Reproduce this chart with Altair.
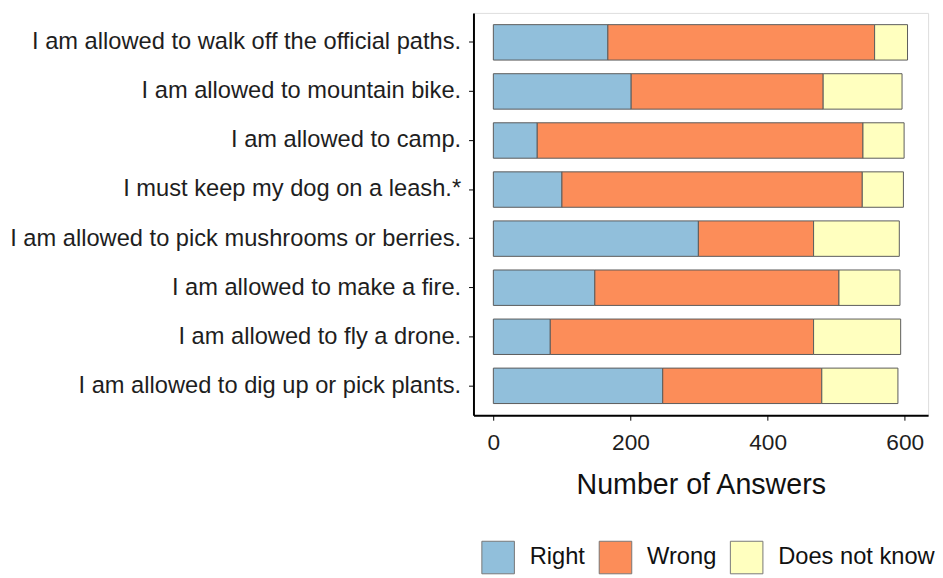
import altair as alt
import pandas as pd

statements = [
    "I am allowed to walk off the official paths.",
    "I am allowed to mountain bike.",
    "I am allowed to camp.",
    "I must keep my dog on a leash.*",
    "I am allowed to pick mushrooms or berries.",
    "I am allowed to make a fire.",
    "I am allowed to fly a drone.",
    "I am allowed to dig up or pick plants.",
]
right = [167, 201, 64, 100, 299, 148, 83, 247]
wrong = [389, 280, 475, 438, 168, 356, 384, 232]
dont_know = [48, 115, 60, 60, 125, 89, 127, 111]

answers = ["Right", "Wrong", "Does not know"]
colors = ["#91bfdb", "#fc8d59", "#ffffbf"]

rows = []
for i, s in enumerate(statements):
    for k, (a, v) in enumerate(zip(answers, [right[i], wrong[i], dont_know[i]])):
        rows.append({"statement": s, "answer": a, "count": v, "order": k})
df = pd.DataFrame(rows)

font = "Liberation Sans"

chart = alt.Chart(df).mark_bar(stroke="#5a5a5a", strokeWidth=1).encode(
    y=alt.Y("statement:N", sort=statements,
            scale=alt.Scale(paddingInner=0.278, paddingOuter=0.239),
            axis=alt.Axis(title=None, labelFontSize=24, labelColor="#1e1e1e",
                          labelFont=font, domainColor="black", domainWidth=2,
                          tickColor="black", tickSize=5, tickWidth=1,
                          labelPadding=8, labelLimit=700)),
    x=alt.X("count:Q", stack="zero",
            scale=alt.Scale(domain=[-29, 634], nice=False, zero=False),
            axis=alt.Axis(title="Number of Answers", values=[0, 200, 400, 600],
                          grid=False, labelFontSize=23, labelColor="#1e1e1e",
                          labelFont=font, titleFont=font, titleFontSize=29,
                          titleFontWeight="normal", titleColor="#111",
                          titlePadding=16, domainColor="black", domainWidth=2,
                          tickColor="black", tickSize=5, labelPadding=12)),
    color=alt.Color("answer:N", sort=answers,
                    scale=alt.Scale(domain=answers, range=colors),
                    legend=alt.Legend(title=None, orient="none", direction="horizontal",
                                      legendX=8, legendY=535, symbolType="square",
                                      symbolSize=1089, symbolStrokeColor="#777",
                                      symbolStrokeWidth=1, labelFontSize=24,
                                      labelFont=font, labelColor="#111",
                                      columnPadding=11, labelOffset=15,
                                      padding=0)),
    order=alt.Order("order:Q"),
).properties(
    width=461, height=408,
    autosize=alt.AutoSizeParams(type="none"),
    padding={"left": 472, "top": 1, "right": 7, "bottom": 160},
).configure_view(stroke=None).configure(background="white")

chart.save("out.html", embed_options={"renderer": "svg", "actions": False})
